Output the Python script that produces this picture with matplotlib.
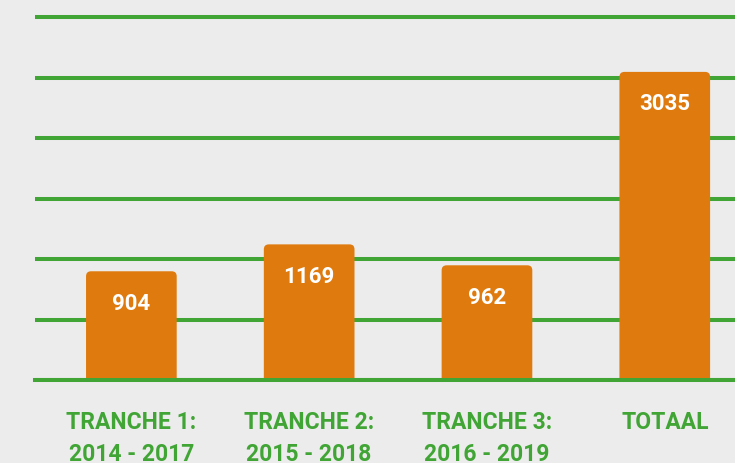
import numpy as np
import matplotlib
matplotlib.use("Agg")
import matplotlib.pyplot as plt
from matplotlib.patches import FancyBboxPatch
from matplotlib.transforms import Bbox, IdentityTransform

plt.rcParams["font.family"] = ["Roboto", "DejaVu Sans"]

# data
CATEGORIES = ["TRANCHE 1:\n2014 - 2017", "TRANCHE 2:\n2015 - 2018",
              "TRANCHE 3:\n2016 - 2019", "TOTAAL"]
VALUES = [904, 1169, 962, 3035]

BG = "#ececec"
GREEN = "#40a535"
ORANGE = "#df7b0e"

# the original compresses tall bars a little, so use a mild power scale
POWER = 0.86


def fwd(v):
    v = np.asarray(v, dtype=float)
    return np.sign(v) * np.abs(v) ** POWER


def inv(t):
    t = np.asarray(t, dtype=float)
    return np.sign(t) * np.abs(t) ** (1 / POWER)


YMAX = 3885
GRID_TOP = 3670

fig = plt.figure(figsize=(7.35, 4.64), dpi=100, facecolor=BG)
ax = fig.add_axes([35 / 735, (464 - 381) / 464, 700 / 735, 381 / 464])
ax.set_facecolor(BG)
ax.set_yscale("function", functions=(fwd, inv))

x = np.arange(len(CATEGORIES))
bars = ax.bar(x, VALUES, width=0.51, color=ORANGE, zorder=2)
ax.set_xlim(-0.542, 3.395)
ax.set_ylim(0, YMAX)

# evenly spaced green rules (no labels)
ax.set_yticks(inv(np.linspace(0, fwd(GRID_TOP), 7)))
ax.yaxis.grid(True, color=GREEN, linewidth=2.9)
ax.set_axisbelow(True)
ax.axhline(0, color=GREEN, linewidth=2.9, zorder=3, clip_on=False)
ax.tick_params(axis="y", left=False, labelleft=False)

for s in ax.spines.values():
    s.set_visible(False)

ax.set_xticks(x, CATEGORIES)
ax.tick_params(axis="x", length=0, pad=21.5, labelsize=16.5, labelcolor=GREEN)
for lbl in ax.get_xticklabels():
    lbl.set_fontweight("bold")
    lbl.set_linespacing(1.5)
    lbl.set_verticalalignment("top")

for xi, v in zip(x, VALUES):
    ax.annotate(f"{v}", (xi, v), xytext=(0, -22.5), textcoords="offset points",
                ha="center", va="center", color="white", fontsize=16,
                fontweight="bold", zorder=4)

# swap square bars for ones with rounded top corners (drawn in pixels)
fig.canvas.draw()
r = 5
for bar in bars:
    bb = bar.get_window_extent()
    patch = FancyBboxPatch((bb.x0, bb.y0 - 2 * r), bb.width, bb.height + 2 * r,
                           boxstyle=f"round,pad=0,rounding_size={r}",
                           transform=IdentityTransform(), fc=ORANGE, ec="none",
                           zorder=2)
    patch.set_clip_box(Bbox.from_extents(bb.x0, bb.y0, bb.x1, bb.y1 + 1))
    ax.add_artist(patch)
    bar.set_visible(False)

fig.savefig("out.png", dpi=100, facecolor=BG)
